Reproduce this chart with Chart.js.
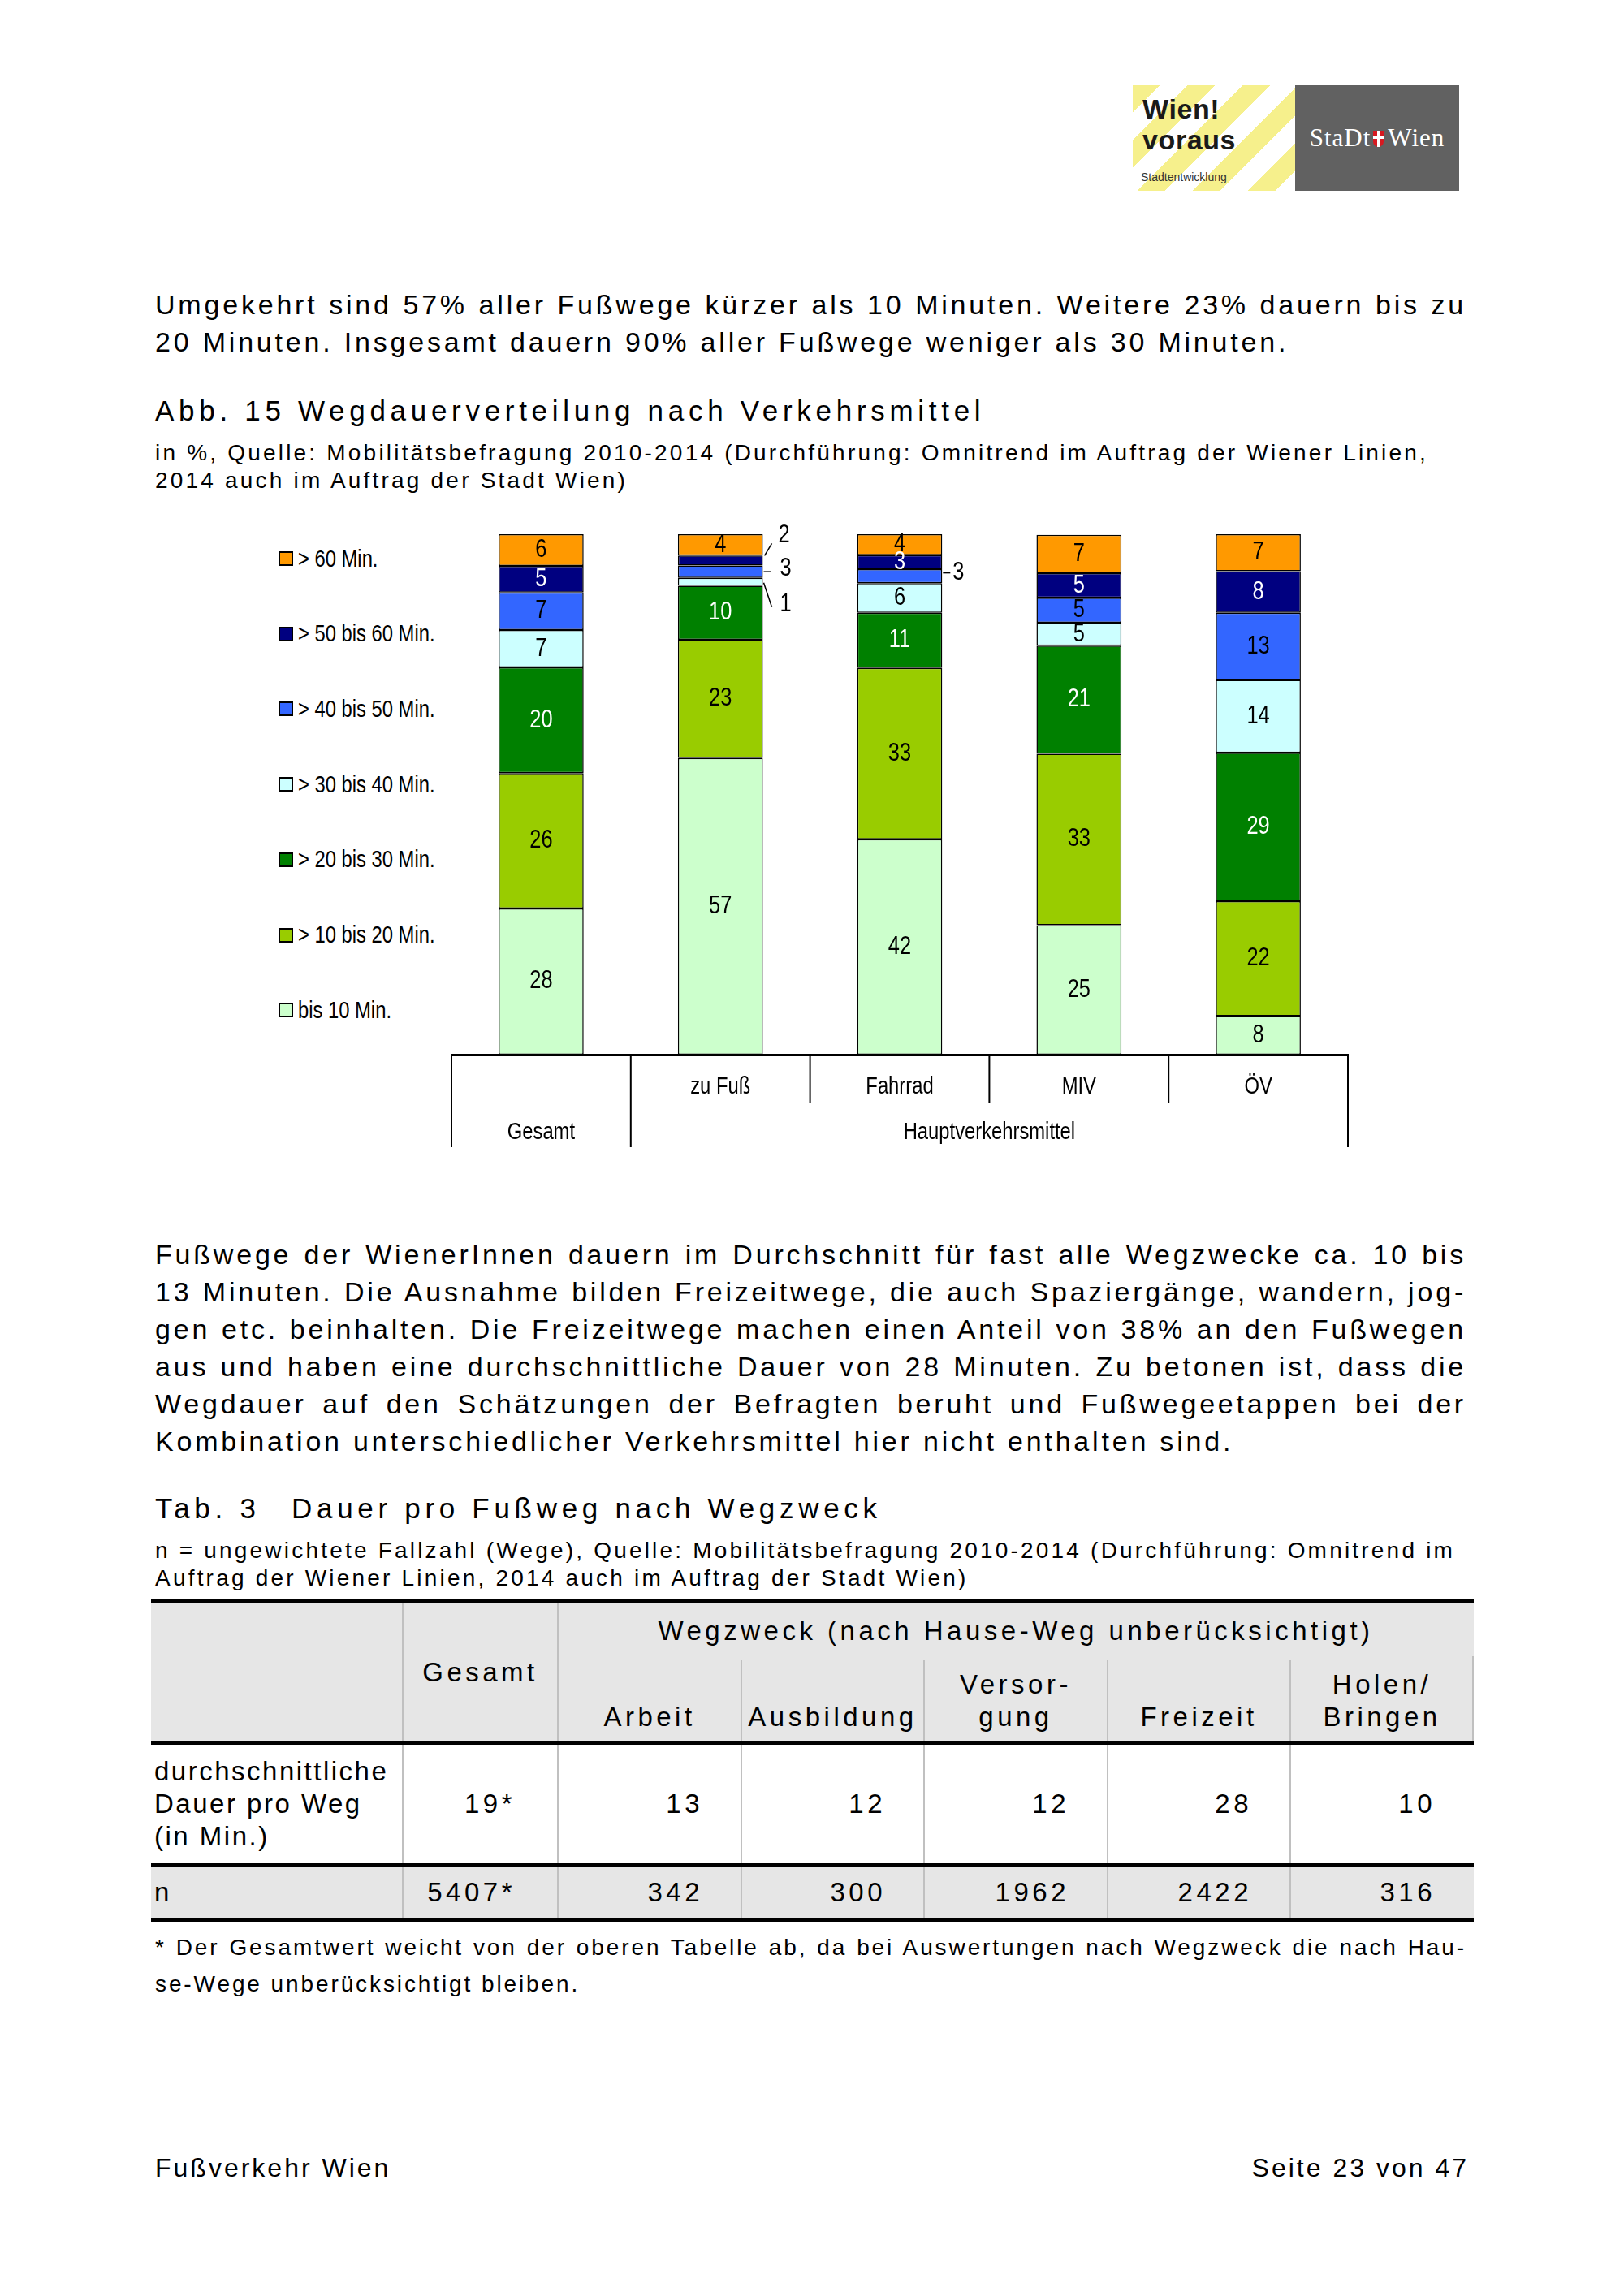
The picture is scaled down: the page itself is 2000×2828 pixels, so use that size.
<!DOCTYPE html>
<html lang="de">
<head>
<meta charset="utf-8">
<title>Abb. 15 Wegdauerverteilung nach Verkehrsmittel</title>
<script src="https://cdn.jsdelivr.net/npm/chart.js@4.4.1/dist/chart.umd.min.js"></script>
<style>
  html, body { margin: 0; padding: 0; background: #fff; }
  body { width: 2000px; height: 2828px; position: relative; overflow: hidden;
         font-family: 'Liberation Sans', Arial, sans-serif; color: #000; }
  .abs { position: absolute; }
  .txt { left: 191px; width: 1615px; }
  .para { font-size: 34px; letter-spacing: 3.8px; line-height: 46px; }
  .para div { text-align: justify; text-align-last: justify; }
  .para div.last { text-align-last: left; }
  .title { font-size: 35px; letter-spacing: 5.7px; line-height: 44px; }
  .sub { font-size: 28px; letter-spacing: 3.2px; line-height: 34px; }
  .note { font-size: 28px; letter-spacing: 2.9px; line-height: 45px; }
  .note div { text-align: justify; text-align-last: justify; }
  .note div.last { text-align-last: left; }
  .foot { font-size: 32px; letter-spacing: 3px; line-height: 44px; }

  /* logo */
  #logoA { left: 1395px; top: 105px; width: 200px; height: 130px;
           background: repeating-linear-gradient(135deg, #f6f08c 0 24px, #ffffff 24px 48px); }
  #logoA .w { position: absolute; left: 12px; font-weight: bold; font-size: 34px; line-height: 38px;
              letter-spacing: 0.6px; color: #1a1a1a; white-space: nowrap; }
  #logoA .s { position: absolute; left: 10px; top: 105px; font-size: 14px; line-height: 16px; color: #333; }
  #logoB { left: 1595px; top: 105px; width: 202px; height: 130px; background: #616161;
           display: flex; align-items: center; justify-content: center;
           font-family: 'Liberation Serif', 'DejaVu Serif', serif; font-size: 31px; color: #fff; letter-spacing: 1px; }
  #logoB .shield { display: inline-block; width: 13px; height: 20px; margin: 0 5px 0 3px; background: #d71920;
                   border-radius: 0 0 7px 7px; position: relative; top: 1px; }
  #logoB .shield::before { content: ''; position: absolute; left: 5px; top: 0; width: 3px; height: 20px; background: #fff; }
  #logoB .shield::after { content: ''; position: absolute; left: 0; top: 7px; width: 13px; height: 3px; background: #fff; }

  /* chart legend (narrow type = Arial metrics squeezed to 82 %) */
  .leg { position: absolute; left: 343px; height: 40px; display: flex; align-items: center; font-size: 29px; white-space: nowrap; }
  .leg i { display: inline-block; width: 18px; height: 18px; box-sizing: border-box; border: 2px solid #000; margin-right: 6px; }
  .leg span { display: inline-block; transform: scaleX(0.82); transform-origin: left center; }

  /* table */
  .tb { position: absolute; }
  .bg { background: #e6e6e6; }
  .hl { background: #000; height: 4px; left: 186px; width: 1629px; }
  .vl { background: #c0c0c0; width: 2px; }
  .cell { position: absolute; font-size: 33px; letter-spacing: 4.5px; line-height: 40px; display: flex; }
</style>
</head>
<body>

<div id="logoA" class="abs">
  <div class="w" style="top:10px">Wien!</div>
  <div class="w" style="top:48px">voraus</div>
  <div class="s">Stadtentwicklung</div>
</div>
<div id="logoB" class="abs">StaDt<span class="shield"></span>Wien</div>

<div class="abs txt para" style="top:352px">
  <div>Umgekehrt sind 57% aller Fußwege kürzer als 10 Minuten. Weitere 23% dauern bis zu</div>
  <div class="last">20 Minuten. Insgesamt dauern 90% aller Fußwege weniger als 30 Minuten.</div>
</div>

<div class="abs txt title" style="top:484px">Abb. 15 Wegdauerverteilung nach Verkehrsmittel</div>
<div class="abs txt sub" style="top:541px">in %, Quelle: Mobilitätsbefragung 2010-2014 (Durchführung: Omnitrend im Auftrag der Wiener Linien,<br>2014 auch im Auftrag der Stadt Wien)</div>

<div id="legend"></div>
<canvas id="chart" width="1240" height="830" style="position:absolute;left:500px;top:620px;width:1240px;height:830px"></canvas>

<div class="abs txt para" style="top:1522px">
  <div>Fußwege der WienerInnen dauern im Durchschnitt für fast alle Wegzwecke ca. 10 bis</div>
  <div>13 Minuten. Die Ausnahme bilden Freizeitwege, die auch Spaziergänge, wandern, jog-</div>
  <div>gen etc. beinhalten. Die Freizeitwege machen einen Anteil von 38% an den Fußwegen</div>
  <div>aus und haben eine durchschnittliche Dauer von 28 Minuten. Zu betonen ist, dass die</div>
  <div>Wegdauer auf den Schätzungen der Befragten beruht und Fußwegeetappen bei der</div>
  <div class="last">Kombination unterschiedlicher Verkehrsmittel hier nicht enthalten sind.</div>
</div>

<div class="abs txt title" style="top:1836px"><span style="display:inline-block;width:168px">Tab. 3</span>Dauer pro Fußweg nach Wegzweck</div>
<div class="abs txt sub" style="top:1893px;line-height:33.5px">n = ungewichtete Fallzahl (Wege), Quelle: Mobilitätsbefragung 2010-2014 (Durchführung: Omnitrend im<br>Auftrag der Wiener Linien, 2014 auch im Auftrag der Stadt Wien)</div>

<!-- Tab. 3 -->
<div class="tb bg" style="left:186px;top:1972px;width:1629px;height:175px"></div>
<div class="tb bg" style="left:186px;top:2297px;width:1629px;height:68px"></div>
<div class="tb vl" style="left:495px;top:1972px;height:393px"></div>
<div class="tb vl" style="left:686px;top:1972px;height:393px"></div>
<div class="tb vl" style="left:912px;top:2045px;height:320px"></div>
<div class="tb vl" style="left:1137px;top:2045px;height:320px"></div>
<div class="tb vl" style="left:1363px;top:2045px;height:320px"></div>
<div class="tb vl" style="left:1588px;top:2045px;height:320px"></div>
<div class="tb vl" style="left:1813px;top:2040px;height:107px"></div>
<div class="tb hl" style="top:1970px"></div>
<div class="tb hl" style="top:2145px"></div>
<div class="tb hl" style="top:2295px"></div>
<div class="tb hl" style="top:2363px"></div>

<div class="cell" style="left:496px;top:1974px;width:191px;height:171px;align-items:center;justify-content:center">Gesamt</div>
<div class="cell" style="left:687px;top:1974px;width:1128px;height:70px;align-items:center;justify-content:center">Wegzweck (nach Hause-Weg unberücksichtigt)</div>
<div class="cell" style="left:687px;top:2045px;width:226px;height:90px;align-items:flex-end;justify-content:center;text-align:center">Arbeit</div>
<div class="cell" style="left:913px;top:2045px;width:225px;height:90px;align-items:flex-end;justify-content:center;text-align:center">Ausbildung</div>
<div class="cell" style="left:1138px;top:2045px;width:226px;height:90px;align-items:flex-end;justify-content:center;text-align:center">Versor-<br>gung</div>
<div class="cell" style="left:1364px;top:2045px;width:225px;height:90px;align-items:flex-end;justify-content:center;text-align:center">Freizeit</div>
<div class="cell" style="left:1589px;top:2045px;width:226px;height:90px;align-items:flex-end;justify-content:center;text-align:center">Holen/<br>Bringen</div>

<div class="cell" style="left:190px;top:2149px;width:305px;height:146px;align-items:center;letter-spacing:2.5px">durchschnittliche<br>Dauer pro Weg<br>(in Min.)</div>
<div class="cell" style="left:496px;top:2149px;width:139px;height:146px;align-items:center;justify-content:flex-end">19*</div>
<div class="cell" style="left:687px;top:2149px;width:179px;height:146px;align-items:center;justify-content:flex-end">13</div>
<div class="cell" style="left:913px;top:2149px;width:178px;height:146px;align-items:center;justify-content:flex-end">12</div>
<div class="cell" style="left:1138px;top:2149px;width:179px;height:146px;align-items:center;justify-content:flex-end">12</div>
<div class="cell" style="left:1364px;top:2149px;width:178px;height:146px;align-items:center;justify-content:flex-end">28</div>
<div class="cell" style="left:1589px;top:2149px;width:179px;height:146px;align-items:center;justify-content:flex-end">10</div>

<div class="cell" style="left:190px;top:2299px;width:300px;height:64px;align-items:center">n</div>
<div class="cell" style="left:496px;top:2299px;width:139px;height:64px;align-items:center;justify-content:flex-end">5407*</div>
<div class="cell" style="left:687px;top:2299px;width:179px;height:64px;align-items:center;justify-content:flex-end">342</div>
<div class="cell" style="left:913px;top:2299px;width:178px;height:64px;align-items:center;justify-content:flex-end">300</div>
<div class="cell" style="left:1138px;top:2299px;width:179px;height:64px;align-items:center;justify-content:flex-end">1962</div>
<div class="cell" style="left:1364px;top:2299px;width:178px;height:64px;align-items:center;justify-content:flex-end">2422</div>
<div class="cell" style="left:1589px;top:2299px;width:179px;height:64px;align-items:center;justify-content:flex-end">316</div>

<div class="abs txt note" style="top:2376px">
  <div>* Der Gesamtwert weicht von der oberen Tabelle ab, da bei Auswertungen nach Wegzweck die nach Hau-</div>
  <div class="last">se-Wege unberücksichtigt bleiben.</div>
</div>

<div class="abs txt foot" style="top:2648px">Fußverkehr Wien</div>
<div class="abs foot" style="top:2648px;right:191px">Seite 23 von 47</div>

<script>
const FONT = "'Liberation Sans', Arial, sans-serif";
const SQUEEZE = 0.82; // Arial Narrow is Arial at ~82 % width

const categories = ['Gesamt', 'zu Fuß', 'Fahrrad', 'MIV', 'ÖV'];
const groupLabel = 'Hauptverkehrsmittel';

const seriesNames = ['bis 10 Min.', '> 10 bis 20 Min.', '> 20 bis 30 Min.', '> 30 bis 40 Min.',
                     '> 40 bis 50 Min.', '> 50 bis 60 Min.', '> 60 Min.'];
const seriesColors = ['#ccffcc', '#99cc00', '#008000', '#ccffff', '#3366ff', '#000080', '#ff9900'];
const labelColors = ['#000', '#000', '#fff', '#000', '#000', '#fff', '#000'];

// segment heights in % (each bar is scaled to 100 %)
const bis10    = [28.1, 57.0, 41.4, 24.9,  7.4];
const bis20    = [26.0, 22.7, 32.9, 32.9, 22.1];
const bis30    = [20.3, 10.4, 10.6, 20.8, 28.5];
const bis40    = [ 7.2,  1.5,  5.7,  4.4, 14.0];
const bis50    = [ 7.2,  2.4,  2.7,  4.8, 12.9];
const bis60    = [ 5.1,  1.9,  2.7,  4.7,  8.0];
const over60   = [ 6.1,  4.1,  4.0,  7.4,  7.1];

// rounded numbers printed on the segments
const bis10Label  = [28, 57, 42, 25,  8];
const bis20Label  = [26, 23, 33, 33, 22];
const bis30Label  = [20, 10, 11, 21, 29];
const bis40Label  = [ 7,  1,  6,  5, 14];
const bis50Label  = [ 7,  3,  3,  5, 13];
const bis60Label  = [ 5,  2,  3,  5,  8];
const over60Label = [ 6,  4,  4,  7,  7];

const values = [bis10, bis20, bis30, bis40, bis50, bis60, over60];
const printed = [bis10Label, bis20Label, bis30Label, bis40Label, bis50Label, bis60Label, over60Label];

// small segments labelled beside the bar: "dataset:index" -> offsets from right bar edge / segment middle
const outside = {
  '5:1': { dx: 26, dy: -31, l0: [2, -6], l1: [11, -21] },
  '4:1': { dx: 28, dy: -4, l0: [1, 0], l1: [10, 0] },
  '3:1': { dx: 28, dy: 28, l0: [1, 1], l1: [11, 31] },
  '4:2': { dx: 20, dy: -4, l0: [1, -4], l1: [10, -4] }
};

// legend (top item = last series)
const legendBox = document.getElementById('legend');
seriesNames.slice().reverse().forEach((name, k) => {
  const idx = seriesNames.length - 1 - k;
  const row = document.createElement('div');
  row.className = 'leg';
  row.style.top = (668 + k * 92.7) + 'px';
  const sw = document.createElement('i');
  sw.style.background = seriesColors[idx];
  const tx = document.createElement('span');
  tx.textContent = name;
  row.appendChild(sw);
  row.appendChild(tx);
  legendBox.appendChild(row);
});

function narrowText(ctx, text, x, y) {
  ctx.save();
  ctx.translate(x, y);
  ctx.scale(SQUEEZE, 1);
  ctx.fillText(text, 0, 0);
  ctx.restore();
}

const segmentLabels = {
  id: 'segmentLabels',
  afterDatasetsDraw(chart) {
    const ctx = chart.ctx;
    ctx.save();
    ctx.font = '31px ' + FONT;
    ctx.textAlign = 'center';
    ctx.textBaseline = 'middle';
    chart.data.datasets.forEach((ds, i) => {
      chart.getDatasetMeta(i).data.forEach((bar, j) => {
        const text = String(ds.printed[j]);
        const cy = (bar.y + bar.base) / 2;
        const out = outside[i + ':' + j];
        if (out) {
          const edge = bar.x + bar.width / 2;
          ctx.strokeStyle = '#000';
          ctx.lineWidth = 1.5;
          ctx.beginPath();
          ctx.moveTo(edge + out.l0[0], cy + out.l0[1]);
          ctx.lineTo(edge + out.l1[0], cy + out.l1[1]);
          ctx.stroke();
          ctx.fillStyle = '#000';
          narrowText(ctx, text, edge + out.dx, cy + out.dy);
        } else {
          ctx.fillStyle = ds.labelColor;
          narrowText(ctx, text, bar.x, cy);
        }
      });
    });
    ctx.restore();
  }
};

// frame under the bars: cells for the categories, their names and the group caption
const categoryTable = {
  id: 'categoryTable',
  afterDraw(chart) {
    const x = chart.scales.x;
    const ctx = chart.ctx;
    const w = x.getPixelForValue(1) - x.getPixelForValue(0);
    const edge = k => x.getPixelForValue(0) - w / 2 + k * w;
    const row1 = x.top + 40, row2 = x.top + 96;
    ctx.save();
    ctx.strokeStyle = '#000';
    ctx.lineWidth = 2;
    ctx.beginPath();
    [0, 1, 5].forEach(k => { ctx.moveTo(edge(k), x.top); ctx.lineTo(edge(k), x.bottom); });
    [2, 3, 4].forEach(k => { ctx.moveTo(edge(k), x.top); ctx.lineTo(edge(k), x.top + 59); });
    ctx.stroke();
    ctx.font = '29px ' + FONT;
    ctx.fillStyle = '#000';
    ctx.textAlign = 'center';
    ctx.textBaseline = 'middle';
    categories.forEach((c, i) => narrowText(ctx, c, x.getPixelForValue(i), i === 0 ? row2 : row1));
    const mid = (x.getPixelForValue(1) + x.getPixelForValue(categories.length - 1)) / 2;
    narrowText(ctx, groupLabel, mid, row2);
    ctx.restore();
  }
};

new Chart(document.getElementById('chart').getContext('2d'), {
  type: 'bar',
  data: {
    labels: categories,
    datasets: values.map((v, i) => ({
      label: seriesNames[i],
      data: v,
      printed: printed[i],
      labelColor: labelColors[i],
      backgroundColor: seriesColors[i],
      borderColor: '#000',
      borderWidth: 1.5,
      borderSkipped: false,
      barPercentage: 0.474,
      categoryPercentage: 1.0
    }))
  },
  options: {
    responsive: false,
    animation: false,
    layout: { padding: { left: 56, right: 80, top: 38, bottom: 37 } },
    plugins: {
      legend: { display: false },
      tooltip: { enabled: false }
    },
    scales: {
      x: {
        stacked: true,
        grid: { display: false, drawTicks: false },
        border: { display: true, color: '#000', width: 3 },
        ticks: { display: false },
        afterFit(scale) { scale.height = 114; }
      },
      y: { stacked: true, display: false, min: 0, max: 100 }
    }
  },
  plugins: [segmentLabels, categoryTable]
});
</script>
</body>
</html>
